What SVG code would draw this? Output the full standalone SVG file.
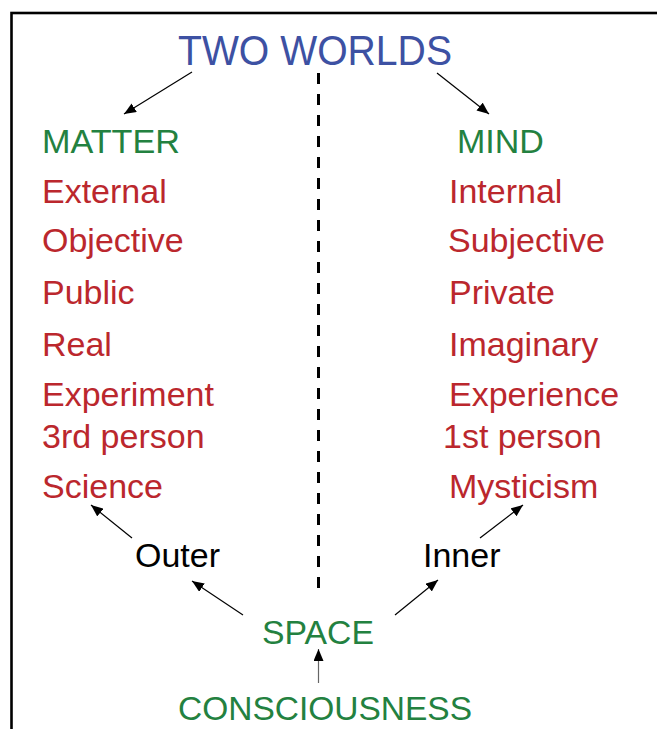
<svg xmlns="http://www.w3.org/2000/svg" width="657" height="729" viewBox="0 0 657 729">
<defs>
<marker id="ah" viewBox="0 0 12 10" refX="12" refY="5" markerWidth="12" markerHeight="10" markerUnits="userSpaceOnUse" orient="auto">
<path d="M0,0 L12,5 L0,10 Z" fill="#000"/>
</marker>
<style>
text{font-family:"Liberation Sans",Arial,sans-serif;font-size:34px}
.t{fill:#3d51a3;font-size:42px}
.g{fill:#238140}
.r{fill:#bb272d}
.k{fill:#000}
.c{stroke:#000;stroke-width:1.2;fill:none;marker-end:url(#ah)}
</style>
</defs>
<rect width="657" height="729" fill="#fff"/>
<rect x="11.5" y="13" width="680" height="740" fill="none" stroke="#000" stroke-width="2.6"/>
<g id="connectors">
<line x1="318.5" y1="73" x2="318.5" y2="598" stroke="#000" stroke-width="3" stroke-dasharray="11 10"/>
<line class="c" x1="192" y1="72" x2="124" y2="114"/>
<line class="c" x1="437" y1="73" x2="489" y2="114"/>
<line class="c" x1="132" y1="538" x2="91" y2="505"/>
<line class="c" x1="480" y1="538" x2="523" y2="505"/>
<line class="c" x1="243" y1="615" x2="192" y2="581"/>
<line class="c" x1="395" y1="615" x2="438" y2="580"/>
<line class="c" x1="318.5" y1="683" x2="318.5" y2="649" style="stroke:#666"/>
</g>
<g id="two-worlds"><text class="t" x="178" y="65" textLength="274" lengthAdjust="spacingAndGlyphs">TWO WORLDS</text></g>
<g id="matter">
<text class="g" x="42" y="153" textLength="138" lengthAdjust="spacingAndGlyphs">MATTER</text>
<text class="r" x="42" y="203">External</text>
<text class="r" x="42" y="252">Objective</text>
<text class="r" x="42" y="304">Public</text>
<text class="r" x="42" y="356">Real</text>
<text class="r" x="42" y="406">Experiment</text>
<text class="r" x="42" y="448">3rd person</text>
<text class="r" x="42" y="498">Science</text>
</g>
<g id="mind">
<text class="g" x="457" y="153">MIND</text>
<text class="r" x="449" y="203">Internal</text>
<text class="r" x="448" y="252">Subjective</text>
<text class="r" x="449" y="304">Private</text>
<text class="r" x="449" y="356">Imaginary</text>
<text class="r" x="449" y="406">Experience</text>
<text class="r" x="443" y="448">1st person</text>
<text class="r" x="449" y="498">Mysticism</text>
</g>
<g id="outer"><text class="k" x="135" y="567">Outer</text></g>
<g id="inner"><text class="k" x="423" y="567">Inner</text></g>
<g id="space"><text class="g" x="262" y="644" textLength="112" lengthAdjust="spacingAndGlyphs">SPACE</text></g>
<g id="consciousness"><text class="g" x="178" y="720" textLength="294" lengthAdjust="spacingAndGlyphs">CONSCIOUSNESS</text></g>
</svg>
